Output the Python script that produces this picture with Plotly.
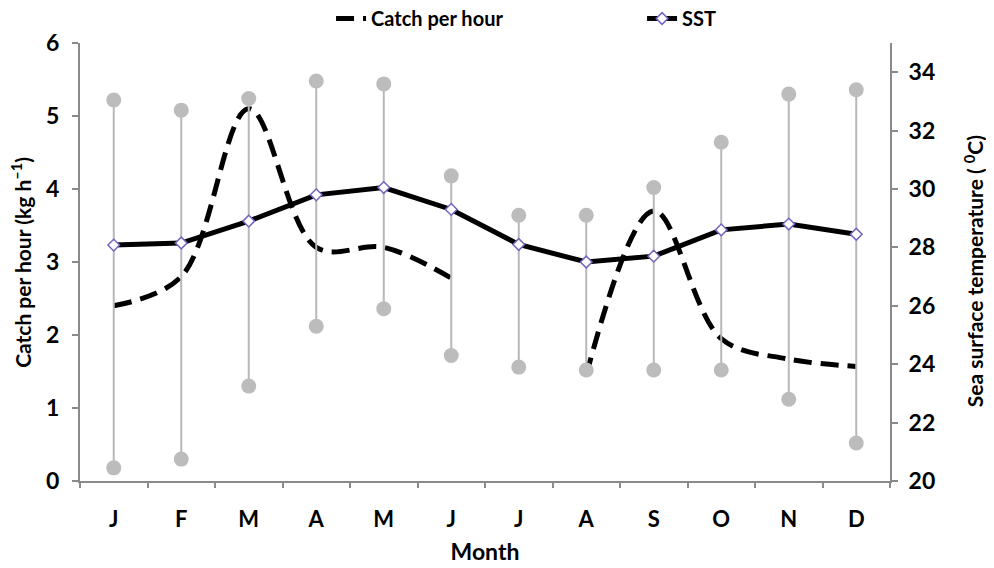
import plotly.graph_objects as go

months = ["J", "F", "M", "A", "M", "J", "J", "A", "S", "O", "N", "D"]
catch_per_hour = [2.4, 2.8, 5.1, 3.2, 3.2, 2.78, None, 1.45, 3.7, 1.95, 1.67, 1.57]
sst = [28.08, 28.15, 28.9, 29.8, 30.05, 29.3, 28.1, 27.5, 27.7, 28.6, 28.8, 28.45]
sst_max = [33.05, 32.7, 33.1, 33.7, 33.6, 30.45, 29.1, 29.1, 30.05, 31.6, 33.25, 33.4]
sst_min = [20.45, 20.75, 23.25, 25.3, 25.9, 24.3, 23.9, 23.8, 23.8, 23.8, 22.8, 21.3]

x = list(range(len(months)))
boundaries = [i - 0.5 for i in range(len(months) + 1)]

# range bars
bx, by = [], []
for i in x:
    bx += [i, i, None]
    by += [sst_min[i], sst_max[i], None]

fig = go.Figure()
fig.add_trace(go.Scatter(
    x=bx, y=by, yaxis="y2", mode="lines+markers",
    line=dict(color="#b4b9bd", width=2),
    marker=dict(color="#bcbcbc", size=15),
    showlegend=False, hoverinfo="skip"))
fig.add_trace(go.Scatter(
    x=x, y=catch_per_hour, name="Catch per hour", mode="lines",
    line=dict(color="black", width=5, dash="18px,9px", shape="spline", smoothing=1.0),
    connectgaps=False))
fig.add_trace(go.Scatter(
    x=x, y=sst, name="SST", yaxis="y2", mode="lines+markers",
    line=dict(color="black", width=5),
    marker=dict(symbol="diamond", size=9, color="white",
                line=dict(color="#7563c0", width=1.5))))
# helper trace for boundary ticks
fig.add_trace(go.Scatter(x=[0], y=[0], xaxis="x2", mode="markers",
                         marker=dict(opacity=0), showlegend=False, hoverinfo="skip"))

axis_col = "#8a8a8a"
font_fam = "Lato, Open Sans, sans-serif"
fig.update_layout(
    width=994, height=568,
    margin=dict(l=72, r=112, t=35, b=95, autoexpand=False),
    plot_bgcolor="white", paper_bgcolor="white",
    font=dict(family=font_fam, color="black", size=18),
    showlegend=True,
    legend=dict(orientation="h", x=0.325, xanchor="left", xref="container",
                y=1.056, yanchor="middle", yref="paper",
                font=dict(size=20, family=font_fam, weight="bold"),
                entrywidth=266, entrywidthmode="pixels"),
    xaxis=dict(range=[-0.5, 11.5], tickvals=x, ticktext=months, ticks="",
               showline=True, linecolor=axis_col, linewidth=2, showgrid=False, zeroline=False,
               tickfont=dict(size=22, weight="bold"), automargin=False, ticklabelstandoff=18,
               title=dict(text="<b>Month</b>", font=dict(size=23), standoff=12)),
    xaxis2=dict(range=[-0.5, 11.5], overlaying="x", anchor="y", side="bottom",
                tickvals=boundaries, showticklabels=False, ticks="outside", ticklen=6,
                tickcolor=axis_col, tickwidth=1.5, showgrid=False, zeroline=False, showline=False,
                automargin=False),
    yaxis=dict(range=[0, 6], dtick=1, ticks="outside", ticklen=6, tickcolor=axis_col, tickwidth=1.5,
               showline=True, linecolor=axis_col, linewidth=2, showgrid=False, zeroline=False,
               tickfont=dict(size=23, weight="bold"), automargin=False, ticklabelstandoff=8),
    yaxis2=dict(range=[20, 35], tickvals=[20, 22, 24, 26, 28, 30, 32, 34], overlaying="y", side="right",
                ticks="outside", ticklen=6, tickcolor=axis_col, tickwidth=1.5,
                showline=True, linecolor=axis_col, linewidth=2, showgrid=False, zeroline=False,
                tickfont=dict(size=23, weight="bold"), automargin=False, ticklabelstandoff=6),
    annotations=[
        dict(text="<b>Catch per hour (kg h<sup>–1</sup>)</b>", textangle=-90,
             xref="paper", yref="paper", x=-0.073, y=0.5, xanchor="center", yanchor="middle",
             showarrow=False, font=dict(size=21, family=font_fam)),
        dict(text="<b>Sea surface temperature ( <sup>0</sup>C)</b>", textangle=-90,
             xref="paper", yref="paper", x=1.103, y=0.48, xanchor="center", yanchor="middle",
             showarrow=False, font=dict(size=21, family=font_fam)),
    ],
)
fig.write_html("out.html")
